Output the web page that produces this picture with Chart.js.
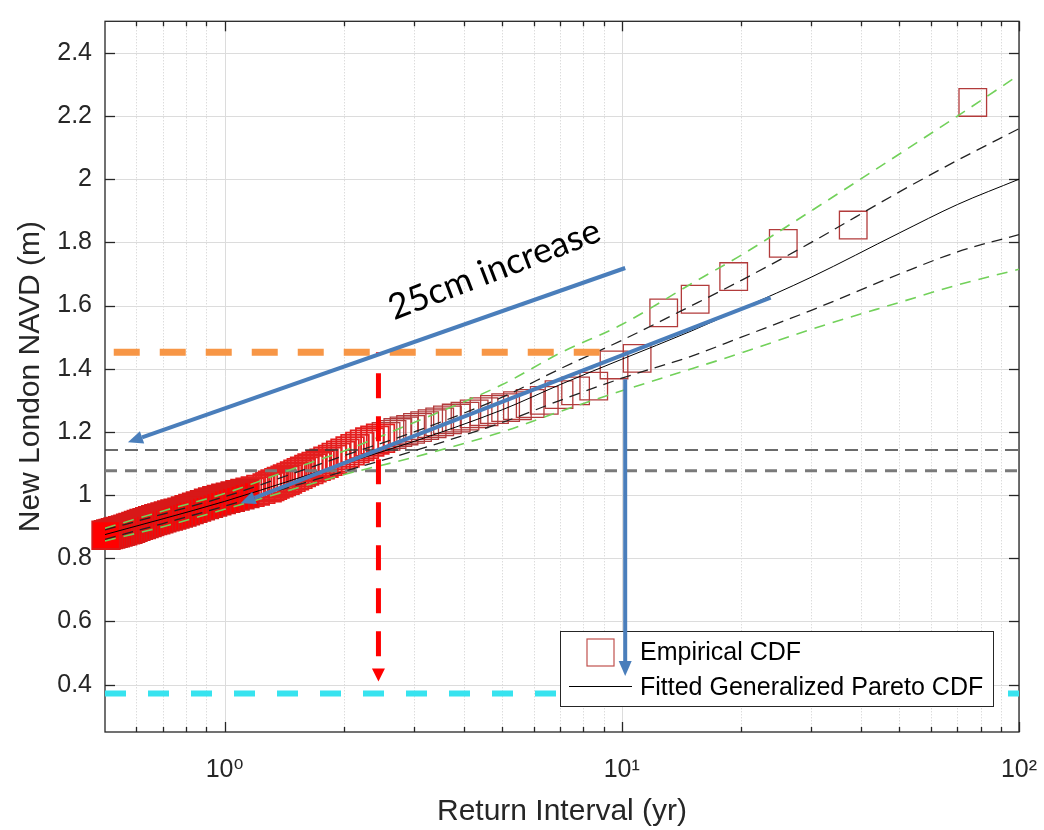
<!DOCTYPE html>
<html>
<head>
<meta charset="utf-8">
<script src="https://cdn.jsdelivr.net/npm/chart.js"></script>
<style>
  html, body { margin: 0; padding: 0; background: #fff; }
</style>
</head>
<body>
<canvas id="grafica" width="1044" height="830"></canvas>
<script>
// empirical CDF: return interval (yr) and level (m)
const returnInterval = [76.5, 38.25, 25.5, 19.13, 15.3, 12.75, 10.93, 9.56, 8.5, 7.65,
  6.95, 6.38, 5.88, 5.46, 5.1, 4.78, 4.5, 4.25, 4.03, 3.83,
  3.64, 3.48, 3.33, 3.19, 3.06, 2.94, 2.83, 2.73, 2.64, 2.55,
  2.47, 2.39, 2.32, 2.25, 2.19, 2.13, 2.07, 2.01, 1.96, 1.91,
  1.87, 1.82, 1.78, 1.74, 1.7, 1.66, 1.63, 1.59, 1.56, 1.53,
  1.5, 1.47, 1.44, 1.42, 1.39, 1.37, 1.34, 1.32, 1.3, 1.28,
  1.234, 1.195, 1.159, 1.125, 1.093, 1.063, 1.034, 1.007, 0.981, 0.956,
  0.933, 0.911, 0.89, 0.869, 0.85, 0.832, 0.814, 0.797, 0.781, 0.765,
  0.75, 0.736, 0.722, 0.708, 0.695, 0.683, 0.671, 0.659, 0.648, 0.638,
  0.627, 0.617, 0.607, 0.598, 0.588, 0.58, 0.571, 0.563, 0.554, 0.546,
  0.539, 0.531, 0.524, 0.517, 0.51, 0.503];
const navdLevel = [2.243, 1.855, 1.797, 1.692, 1.62, 1.577, 1.433, 1.412, 1.345, 1.33,
  1.318, 1.3, 1.29, 1.283, 1.277, 1.271, 1.264, 1.257, 1.25, 1.244,
  1.238, 1.232, 1.226, 1.22, 1.214, 1.208, 1.203, 1.198, 1.192, 1.186,
  1.18, 1.174, 1.168, 1.161, 1.154, 1.147, 1.14, 1.133, 1.126, 1.119,
  1.113, 1.107, 1.101, 1.096, 1.091, 1.086, 1.081, 1.076, 1.071, 1.066,
  1.061, 1.056, 1.051, 1.047, 1.043, 1.039, 1.035, 1.031, 1.027, 1.023,
  1.018, 1.013, 1.009, 1.005, 1.001, 0.997, 0.993, 0.99, 0.986, 0.982,
  0.978, 0.974, 0.97, 0.966, 0.962, 0.958, 0.954, 0.95, 0.946, 0.943,
  0.94, 0.937, 0.934, 0.931, 0.928, 0.925, 0.922, 0.919, 0.916, 0.913,
  0.91, 0.907, 0.904, 0.901, 0.898, 0.895, 0.892, 0.89, 0.887, 0.885,
  0.883, 0.881, 0.879, 0.877, 0.875, 0.873];

// fitted GP curve and its bounds
const fitInterval = [0.5, 0.7, 1, 1.5, 2, 3, 5, 7, 10, 15, 20, 30, 50, 70, 100];
const fitLevel    = [0.875, 0.925, 0.98, 1.05, 1.10, 1.17, 1.27, 1.35, 1.43, 1.52, 1.59, 1.69, 1.83, 1.92, 2.0];
const boundUpper  = [0.89, 0.94, 0.995, 1.07, 1.125, 1.20, 1.31, 1.40, 1.49, 1.60, 1.68, 1.80, 1.96, 2.06, 2.16];
const boundLower  = [0.86, 0.91, 0.965, 1.03, 1.075, 1.14, 1.23, 1.30, 1.37, 1.44, 1.50, 1.585, 1.70, 1.77, 1.825];
const wideUpper   = [0.895, 0.95, 1.005, 1.085, 1.14, 1.23, 1.35, 1.45, 1.54, 1.67, 1.76, 1.90, 2.08, 2.20, 2.33];
const wideLower   = [0.855, 0.90, 0.955, 1.02, 1.065, 1.12, 1.20, 1.265, 1.33, 1.40, 1.45, 1.525, 1.61, 1.665, 1.715];

// ticks
const xTicks = [0.6, 0.7, 0.8, 0.9, 1, 2, 3, 4, 5, 6, 7, 8, 9, 10, 20, 30, 40, 50, 60, 70, 80, 90, 100];
const xLabels = { 1: '10\u2070', 10: '10\u00B9', 100: '10\u00B2' };
const yTicks = [0.4, 0.6, 0.8, 1, 1.2, 1.4, 1.6, 1.8, 2, 2.2, 2.4];

// reference levels (m) and annotations in data units
const refLevels = [1.143, 1.077];
const floodLevel = 1.452;
const floodSpan = [0.526, 8.95];
const tideLevel = 0.372;
const dropArrow = [[2.44, 1.452], [2.44, 0.41]];
const blueArrows = [
  [[10.2, 1.719], [0.571, 1.167]],
  [[23.7, 1.625], [1.097, 0.974]],
  [[10.2, 1.367], [10.2, 0.427]]
];
const note = '25cm increase';
const notePos = [4.78, 1.714];

const puntos = (xs, ys) => xs.map((x, i) => ({ x: x, y: ys[i] }));
const horizontal = (y, desde, hasta) => [{ x: desde, y: y }, { x: hasta, y: y }];

function linea(ctx, x0, y0, x1, y1) {
  ctx.beginPath();
  ctx.moveTo(x0, y0);
  ctx.lineTo(x1, y1);
  ctx.stroke();
}

function flecha(ctx, x0, y0, x1, y1, largo, ancho) {
  const ang = Math.atan2(y1 - y0, x1 - x0);
  const bx = x1 - Math.cos(ang) * largo;
  const by = y1 - Math.sin(ang) * largo;
  linea(ctx, x0, y0, bx, by);
  ctx.setLineDash([]);
  ctx.beginPath();
  ctx.moveTo(x1, y1);
  ctx.lineTo(bx + Math.sin(ang) * ancho / 2, by - Math.cos(ang) * ancho / 2);
  ctx.lineTo(bx - Math.sin(ang) * ancho / 2, by + Math.cos(ang) * ancho / 2);
  ctx.closePath();
  ctx.fill();
}

// grid, box and inward ticks like MATLAB
const ejes = {
  id: 'ejes',
  beforeDatasetsDraw(chart) {
    const { ctx, chartArea: a, scales } = chart;
    const sx = scales.x, sy = scales.y;
    ctx.save();
    ctx.lineWidth = 1;
    xTicks.forEach(v => {
      const px = Math.round(sx.getPixelForValue(v)) + 0.5;
      if (xLabels[v]) { ctx.strokeStyle = '#dcdcdc'; ctx.setLineDash([]); }
      else { ctx.strokeStyle = '#cdcdcd'; ctx.setLineDash([1, 2]); }
      linea(ctx, px, a.top, px, a.bottom);
    });
    ctx.setLineDash([]);
    ctx.strokeStyle = '#dcdcdc';
    yTicks.forEach(v => {
      const py = Math.round(sy.getPixelForValue(v)) + 0.5;
      linea(ctx, a.left, py, a.right, py);
    });
    ctx.strokeStyle = '#262626';
    ctx.lineWidth = 1.3;
    ctx.strokeRect(a.left, a.top, a.right - a.left, a.bottom - a.top);
    xTicks.forEach(v => {
      const px = Math.round(sx.getPixelForValue(v)) + 0.5;
      const len = xLabels[v] ? 10 : 5;
      linea(ctx, px, a.bottom, px, a.bottom - len);
      linea(ctx, px, a.top, px, a.top + len);
    });
    yTicks.forEach(v => {
      const py = Math.round(sy.getPixelForValue(v)) + 0.5;
      linea(ctx, a.left, py, a.left + 10, py);
      linea(ctx, a.right, py, a.right - 10, py);
    });
    ctx.restore();
  }
};

// legend inside the axes, then arrows and the note on top
const anotaciones = {
  id: 'anotaciones',
  afterDatasetsDraw(chart) {
    const { ctx, chartArea: a, scales } = chart;
    const px = v => scales.x.getPixelForValue(v);
    const py = v => scales.y.getPixelForValue(v);
    const etiquetas = chart.data.datasets.slice(0, 2).map(d => d.label);
    ctx.save();

    ctx.font = '25px "Liberation Sans", Arial, sans-serif';
    const tw = Math.max(...etiquetas.map(t => ctx.measureText(t).width));
    const w = Math.round(80 + tw + 10), h = 75;
    const lx = Math.round(a.right - 26 - w), ly = Math.round(a.bottom - 26 - h);
    ctx.fillStyle = '#fff';
    ctx.fillRect(lx, ly, w, h);
    ctx.strokeStyle = '#262626';
    ctx.lineWidth = 1;
    ctx.strokeRect(lx + 0.5, ly + 0.5, w, h);
    ctx.strokeStyle = '#c0504d';
    ctx.lineWidth = 1.2;
    ctx.strokeRect(lx + 27, ly + 8, 27, 27);
    ctx.strokeStyle = '#000';
    ctx.lineWidth = 1;
    linea(ctx, lx + 9, ly + 55.5, lx + 72, ly + 55.5);
    ctx.fillStyle = '#000';
    ctx.textAlign = 'left';
    ctx.textBaseline = 'middle';
    ctx.fillText(etiquetas[0], lx + 80, ly + 22);
    ctx.fillText(etiquetas[1], lx + 80, ly + 57);

    ctx.strokeStyle = '#ff0000';
    ctx.fillStyle = '#ff0000';
    ctx.lineWidth = 5;
    ctx.setLineDash([25, 18]);
    ctx.lineDashOffset = 22;
    flecha(ctx, px(dropArrow[0][0]), py(dropArrow[0][1]), px(dropArrow[1][0]), py(dropArrow[1][1]), 13, 13);
    ctx.lineDashOffset = 0;

    ctx.strokeStyle = '#4a7ebb';
    ctx.fillStyle = '#4a7ebb';
    ctx.lineWidth = 4;
    blueArrows.forEach(p => {
      flecha(ctx, px(p[0][0]), py(p[0][1]), px(p[1][0]), py(p[1][1]), 15, 13);
    });

    ctx.translate(px(notePos[0]), py(notePos[1]));
    ctx.rotate(-21 * Math.PI / 180);
    ctx.font = '36px Lato, "Open Sans", sans-serif';
    const size = 36 * 224 / ctx.measureText(note).width;
    ctx.font = size.toFixed(1) + 'px Lato, "Open Sans", sans-serif';
    ctx.fillStyle = '#000';
    ctx.textAlign = 'center';
    ctx.fillText(note, 0, 0);
    ctx.restore();
  }
};

const tinta = '#262626';
const fuente = '"Liberation Sans", Arial, "DejaVu Sans", sans-serif';

new Chart(document.getElementById('grafica'), {
  type: 'scatter',
  data: {
    datasets: [
      {
        label: 'Empirical CDF',
        data: puntos(returnInterval, navdLevel),
        pointStyle: 'rect',
        pointRadius: 19.5,
        pointHoverRadius: 19.5,
        pointBorderWidth: c => (c.raw && c.raw.x < 2.5) ? 1.8 : 1.3,
        pointBorderColor: c => {
          if (!c.raw) return '#b23b3b';
          if (c.raw.x < 1.15) return '#d81818';
          return c.raw.x < 2.5 ? '#e41e1e' : '#b23b3b';
        },
        pointBackgroundColor: c => (c.raw && c.raw.x < 1.15) ? '#ff0000' : 'rgba(0,0,0,0)',
        clip: false,
        order: 10
      },
      {
        label: 'Fitted Generalized Pareto CDF',
        data: puntos(fitInterval, fitLevel),
        showLine: true, pointRadius: 0, borderColor: '#000', borderWidth: 1,
        cubicInterpolationMode: 'monotone', order: 3
      },
      {
        label: 'upper bound',
        data: puntos(fitInterval, boundUpper),
        showLine: true, pointRadius: 0, borderColor: '#222', borderWidth: 1.3,
        borderDash: [11, 7], cubicInterpolationMode: 'monotone', order: 4
      },
      {
        label: 'lower bound',
        data: puntos(fitInterval, boundLower),
        showLine: true, pointRadius: 0, borderColor: '#222', borderWidth: 1.3,
        borderDash: [11, 7], cubicInterpolationMode: 'monotone', order: 4
      },
      {
        label: 'upper wide bound',
        data: puntos(fitInterval, wideUpper),
        showLine: true, pointRadius: 0, borderColor: '#72d15a', borderWidth: 1.6,
        borderDash: [11, 8], cubicInterpolationMode: 'monotone', order: 5
      },
      {
        label: 'lower wide bound',
        data: puntos(fitInterval, wideLower),
        showLine: true, pointRadius: 0, borderColor: '#72d15a', borderWidth: 1.6,
        borderDash: [11, 8], cubicInterpolationMode: 'monotone', order: 5
      },
      {
        label: 'ref 1',
        data: horizontal(refLevels[0], 0.5, 100),
        showLine: true, pointRadius: 0, borderColor: '#3a3a3a', borderWidth: 1.6,
        borderDash: [13, 7], order: 6
      },
      {
        label: 'ref 2',
        data: horizontal(refLevels[1], 0.5, 100),
        showLine: true, pointRadius: 0, borderColor: '#7a7a7a', borderWidth: 3,
        borderDash: [12, 8], order: 6
      },
      {
        label: 'flood',
        data: horizontal(floodLevel, floodSpan[0], floodSpan[1]),
        showLine: true, pointRadius: 0, borderColor: '#f79646', borderWidth: 7,
        borderDash: [26, 20], borderCapStyle: 'butt', order: 1
      },
      {
        label: 'tide',
        data: horizontal(tideLevel, 0.5, 100),
        showLine: true, pointRadius: 0, borderColor: '#37e3ef', borderWidth: 6,
        borderDash: [21, 22], borderCapStyle: 'butt', order: 1
      }
    ]
  },
  options: {
    responsive: false,
    animation: false,
    events: [],
    layout: { padding: { top: 12, right: 25, bottom: 0, left: 0 } },
    plugins: { legend: { display: false }, tooltip: { enabled: false } },
    scales: {
      x: {
        type: 'logarithmic',
        min: 0.5,
        max: 100,
        afterBuildTicks: s => { s.ticks = xTicks.map(v => ({ value: v })); },
        afterFit: s => { s.height = 98; s.paddingLeft = 0; s.paddingRight = 0; },
        grid: { display: false, drawTicks: false },
        border: { display: false },
        ticks: {
          autoSkip: false, maxRotation: 0, padding: 23, color: tinta,
          font: { family: fuente, size: 25 },
          callback: v => xLabels[v] || ''
        },
        title: {
          display: true, text: 'Return Interval (yr)', color: tinta,
          font: { family: fuente, size: 30 }, padding: { top: 0, bottom: 0 }
        }
      },
      y: {
        min: 0.25,
        max: 2.5,
        afterBuildTicks: s => { s.ticks = yTicks.map(v => ({ value: v })); },
        afterFit: s => { s.width = 105; s.paddingTop = 0; s.paddingBottom = 0; },
        grid: { display: false, drawTicks: false },
        border: { display: false },
        ticks: {
          padding: 13, color: tinta,
          font: { family: fuente, size: 25 },
          callback: v => String(+Number(v).toFixed(1))
        },
        title: {
          display: true, text: 'New London NAVD (m)', color: tinta,
          font: { family: fuente, size: 30 }, padding: { top: 13, bottom: 0 }
        }
      }
    }
  },
  plugins: [ejes, anotaciones]
});
</script>
</body>
</html>
